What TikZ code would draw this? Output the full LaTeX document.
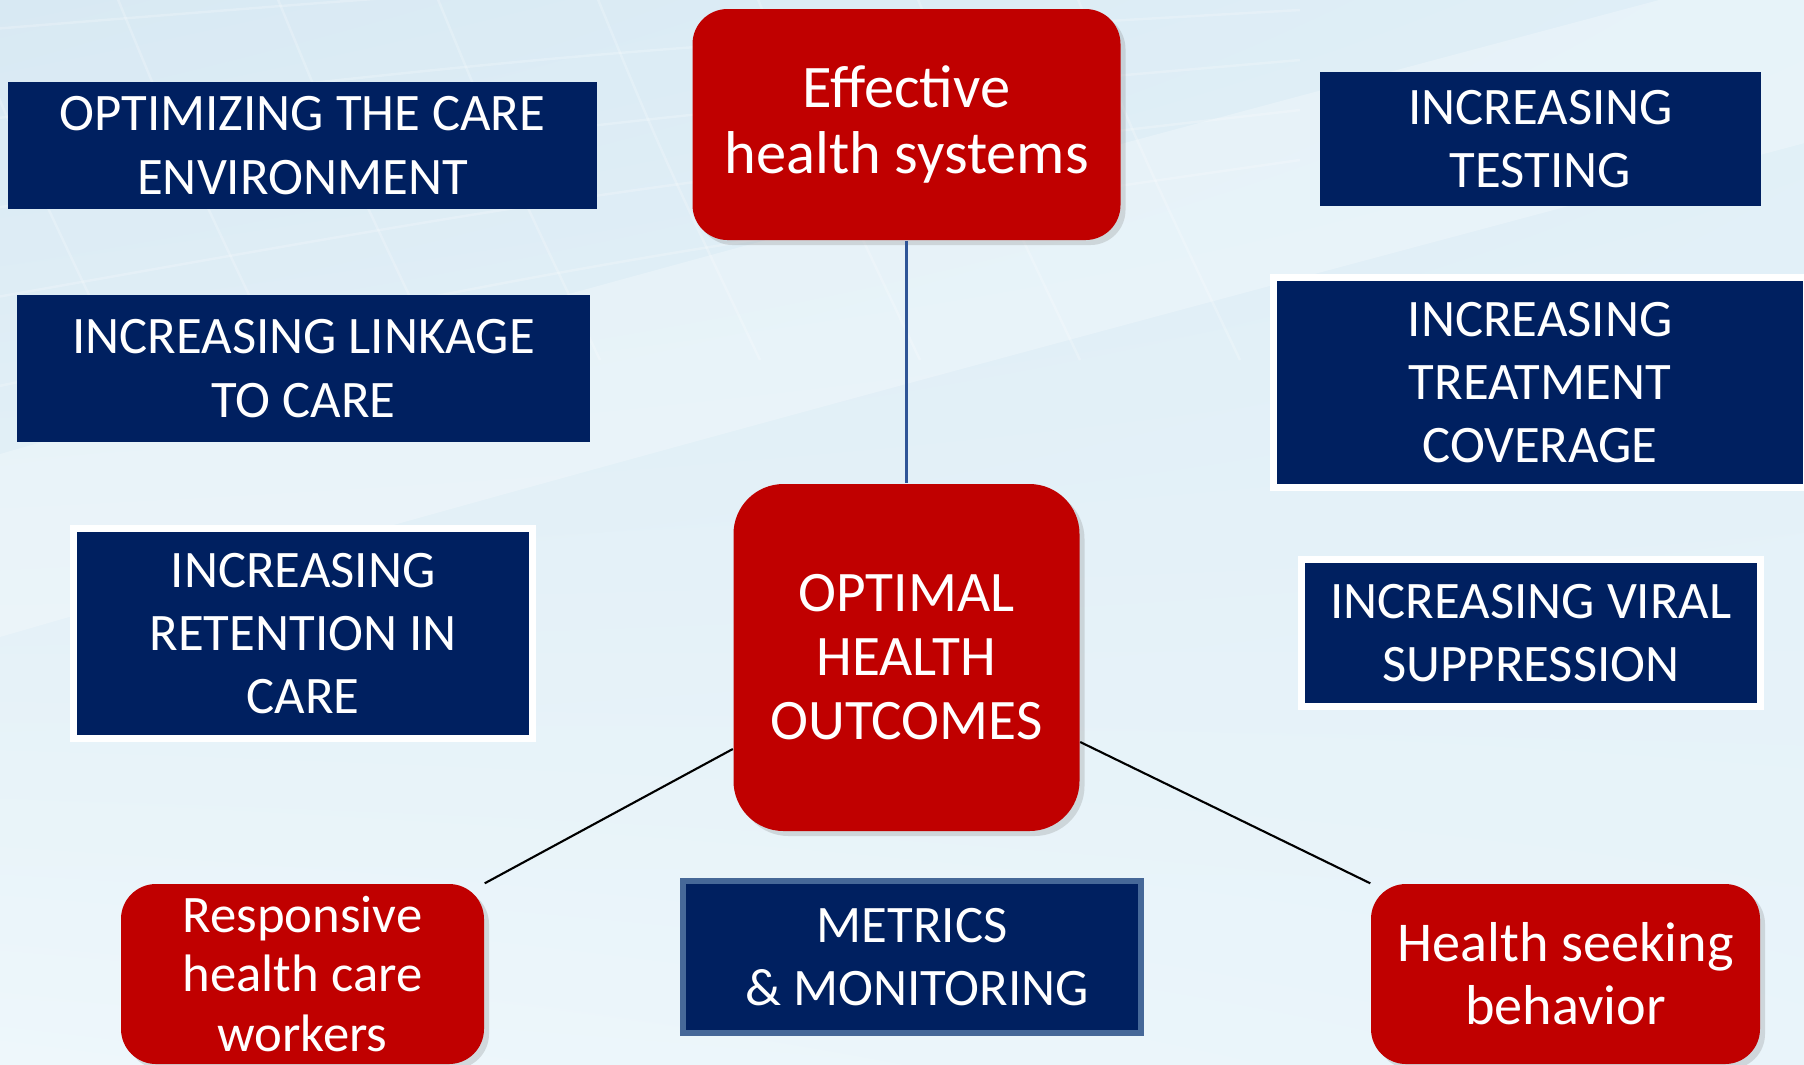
\documentclass[tikz,border=0pt]{standalone}
\usepackage{fontspec}
\setmainfont{Carlito}
\usetikzlibrary{positioning, shadows, shadings}

\definecolor{boxnavy}{RGB}{0,32,96}
\definecolor{boxred}{RGB}{192,0,0}
\definecolor{stemblue}{RGB}{47,85,151}
\definecolor{rimblue}{RGB}{70,104,152}
\definecolor{skyul}{RGB}{216,233,243}
\definecolor{skyur}{RGB}{224,239,247}
\definecolor{skyll}{RGB}{238,247,251}
\definecolor{skylr}{RGB}{233,244,250}

\begin{document}
\begin{tikzpicture}[
    x=1cm,
    y=-1cm,
    every node/.style={text=white, align=center, inner sep=0pt},
    goal/.style={
        rectangle,
        rounded corners=0.35cm,
        fill=boxred,
        drop shadow={opacity=0.25, shadow xshift=0.05cm, shadow yshift=-0.05cm},
    },
    aim/.style={
        rectangle,
        fill=boxnavy,
        font=\fontsize{15}{18}\selectfont,
    },
    framed/.style={
        aim,
        draw=white,
        line width=2pt,
        drop shadow={opacity=0.2, shadow xshift=0.03cm, shadow yshift=-0.03cm},
    },
    spoke/.style={black, line width=0.6pt},
]

% --- Background ---
\useasboundingbox (0,0) rectangle (18.04,10.64);
\shade[upper left=skyul, upper right=skyur, lower left=skyll, lower right=skylr]
    (0,0) rectangle (18.04,10.64);
\draw[white, line width=50pt, opacity=0.25, line cap=round]
    (-0.5,5.6) .. controls (5,4.0) and (11,2.4) .. (18.5,0.4);
\foreach \k in {0,...,7}
    \draw[white, opacity=0.22, line width=0.7pt]
        (-0.5+1.6*\k,-0.2) .. controls (0.2+1.6*\k,1.5) .. (1.2+1.6*\k,3.6);
\foreach \k in {0,...,4}
    \draw[white, opacity=0.22, line width=0.7pt]
        (-0.2,0.9*\k+0.3) .. controls (6,0.7*\k-0.2) .. (13,0.5*\k-0.4);

% --- Red goals ---
\node[goal, minimum width=4.28cm, minimum height=2.31cm,
      font=\fontsize{17.2}{19}\selectfont]                  (eff)  at (9.065,1.245) {Effective\\health systems};
\node[goal, minimum width=3.46cm, minimum height=3.47cm, rounded corners=0.5cm,
      font=\fontsize{16.3}{18.2}\selectfont]                (outc) at (9.065,6.575) {OPTIMAL\\HEALTH\\OUTCOMES};
\node[goal, minimum width=3.63cm, minimum height=1.80cm,
      font=\fontsize{15}{16.8}\selectfont]                  (resp) at (3.025,9.74)  {Responsive\\health care\\workers};
\node[goal, minimum width=3.89cm, minimum height=1.80cm,
      font=\fontsize{16}{18}\selectfont]                    (seek) at (15.655,9.74) {Health seeking\\behavior};

% --- Navy aims ---
\node[aim,    minimum width=5.89cm, minimum height=1.27cm] (care)  at (3.025,1.455)  {OPTIMIZING THE CARE\\ENVIRONMENT};
\node[aim,    minimum width=5.73cm, minimum height=1.47cm] (link)  at (3.035,3.685)  {INCREASING LINKAGE\\TO CARE};
\node[framed, minimum width=4.59cm, minimum height=2.10cm] (ret)   at (3.03,6.335)   {INCREASING\\RETENTION IN\\CARE};
\node[aim,    minimum width=4.41cm, minimum height=1.34cm] (test)  at (15.405,1.39)  {INCREASING\\TESTING};
\node[framed, minimum width=5.33cm, minimum height=2.10cm] (treat) at (15.40,3.825)  {INCREASING\\TREATMENT\\COVERAGE};
\node[framed, minimum width=4.59cm, minimum height=1.47cm] (viral) at (15.31,6.33)   {INCREASING VIRAL\\SUPPRESSION};
\node[aim, draw=rimblue, line width=1.5pt,
      minimum width=4.58cm, minimum height=1.52cm]           (mon)   at (9.12,9.57)    {METRICS\\\hspace{0.1cm}\& MONITORING};

% --- Links ---
\draw[stemblue, line width=1pt] (eff) -- (outc);
\draw[spoke] ([yshift=-0.915cm]outc.west) -- (resp.north east);
\draw[spoke] ([yshift=-0.845cm]outc.east) -- (seek.north west);

\end{tikzpicture}
\end{document}
